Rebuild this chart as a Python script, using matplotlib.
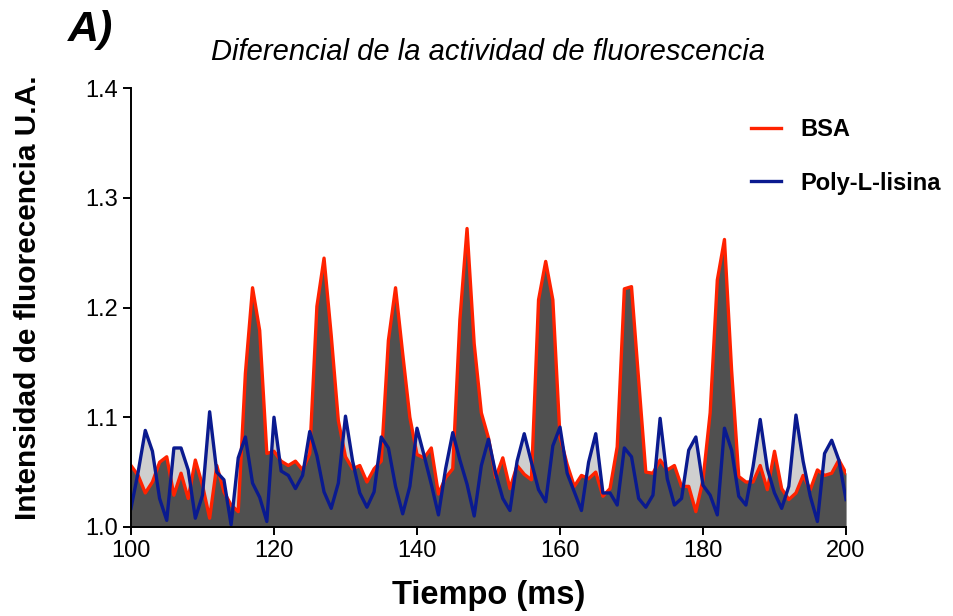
import numpy as np
import matplotlib.pyplot as plt

# Tiempo (ms), one sample per ms
tiempo = np.arange(100, 201)

bsa = [1.056, 1.047, 1.031, 1.041, 1.059, 1.064, 1.029, 1.049, 1.026, 1.061,
       1.038, 1.008, 1.056, 1.032, 1.020, 1.014, 1.140, 1.218, 1.179, 1.067,
       1.069, 1.060, 1.056, 1.060, 1.052, 1.067, 1.201, 1.245, 1.175, 1.097,
       1.064, 1.053, 1.056, 1.041, 1.053, 1.060, 1.170, 1.218, 1.158, 1.100,
       1.066, 1.063, 1.072, 1.030, 1.045, 1.053, 1.189, 1.272, 1.167, 1.104,
       1.081, 1.045, 1.063, 1.035, 1.056, 1.048, 1.043, 1.207, 1.242, 1.207,
       1.082, 1.057, 1.037, 1.047, 1.044, 1.050, 1.028, 1.035, 1.073, 1.217,
       1.219, 1.134, 1.050, 1.049, 1.061, 1.052, 1.056, 1.037, 1.037, 1.014,
       1.043, 1.104, 1.225, 1.262, 1.143, 1.046, 1.041, 1.041, 1.056, 1.034,
       1.069, 1.035, 1.025, 1.031, 1.047, 1.034, 1.052, 1.047, 1.049, 1.061,
       1.049]

poly_l_lisina = [1.017, 1.050, 1.088, 1.069, 1.026, 1.006, 1.072, 1.072, 1.052, 1.008,
                 1.029, 1.105, 1.050, 1.043, 1.002, 1.063, 1.082, 1.040, 1.027, 1.005,
                 1.100, 1.051, 1.047, 1.035, 1.047, 1.087, 1.065, 1.032, 1.017, 1.040,
                 1.101, 1.060, 1.031, 1.018, 1.032, 1.082, 1.072, 1.037, 1.012, 1.037,
                 1.090, 1.065, 1.039, 1.011, 1.053, 1.086, 1.061, 1.039, 1.010, 1.056,
                 1.080, 1.049, 1.026, 1.015, 1.060, 1.085, 1.059, 1.034, 1.023, 1.074,
                 1.091, 1.049, 1.032, 1.015, 1.059, 1.085, 1.031, 1.031, 1.020, 1.072,
                 1.064, 1.026, 1.018, 1.029, 1.099, 1.044, 1.020, 1.026, 1.070, 1.082,
                 1.038, 1.029, 1.011, 1.090, 1.070, 1.028, 1.020, 1.055, 1.098, 1.053,
                 1.031, 1.017, 1.037, 1.102, 1.060, 1.028, 1.005, 1.067, 1.079, 1.061,
                 1.025]

plt.rcParams['font.family'] = ['Liberation Sans', 'DejaVu Sans']

fig = plt.figure(figsize=(9.54, 6.16), dpi=100)
ax = fig.add_axes([0.1373, 0.1445, 0.7495, 0.7126])

# light fill under Poly-L-lisina, dark fill under BSA drawn on top
ax.fill_between(tiempo, 1.0, poly_l_lisina, color='#cfcfcf', linewidth=0)
ax.fill_between(tiempo, 1.0, bsa, color='#505050', linewidth=0)
ax.plot(tiempo, bsa, color='#ff2200', linewidth=2.4, label='BSA')
ax.plot(tiempo, poly_l_lisina, color='#0a1a8f', linewidth=2.4, label='Poly-L-lisina')

ax.set_xlim(100, 200)
ax.set_ylim(1.0, 1.4)
ax.set_xticks(np.arange(100, 201, 20))
ax.set_yticks([1.0, 1.1, 1.2, 1.3, 1.4])
ax.set_yticklabels(['1.0', '1.1', '1.2', '1.3', '1.4'])

for side in ['top', 'right']:
    ax.spines[side].set_visible(False)
for side in ['left', 'bottom']:
    ax.spines[side].set_linewidth(1.4)
ax.tick_params(direction='out', length=6, width=1.4, labelsize=17)

ax.set_xlabel('Tiempo (ms)', fontsize=23.5, fontweight='bold', labelpad=13)
ax.set_ylabel('Intensidad de fluorecencia U.A.', fontsize=21.5, fontweight='bold')
ax.yaxis.set_label_coords(-0.1245, 0.522)
ax.set_title('Diferencial de la actividad de fluorescencia', fontsize=21,
             fontstyle='italic', pad=20)
fig.text(0.071, 0.951, 'A)', fontsize=31, fontweight='bold', fontstyle='italic',
         va='center')

leg = ax.legend(loc='upper right', bbox_to_anchor=(1.163, 0.98), frameon=False,
                handlelength=1.25, handletextpad=0.85, labelspacing=1.3,
                prop={'weight': 'bold', 'size': 17})

fig.savefig('out.png', dpi=100)
